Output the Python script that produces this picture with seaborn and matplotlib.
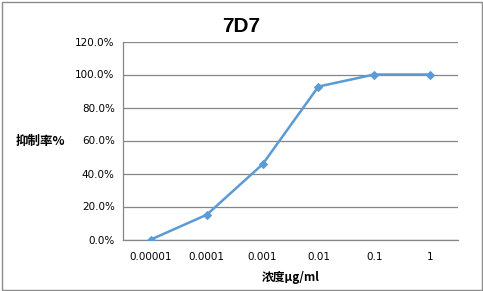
import matplotlib
matplotlib.use("Agg")
import matplotlib.pyplot as plt
import seaborn as sns
import pandas as pd
from matplotlib.ticker import FixedLocator, PercentFormatter
from matplotlib.patches import Rectangle

concentrations = ["0.00001", "0.0001", "0.001", "0.01", "0.1", "1"]
inhibition = [0.0, 15.0, 45.6, 92.7, 100.0, 100.0]
y_ticks = [0, 20, 40, 60, 80, 100, 120]

sns.set_style("white")
plt.rcParams['font.family'] = ['DejaVu Sans', 'Noto Sans CJK SC']
plt.rcParams['text.color'] = 'black'
plt.rcParams['xtick.labelcolor'] = 'black'
plt.rcParams['ytick.labelcolor'] = 'black'

df = pd.DataFrame({"conc": concentrations, "inh": inhibition})

fig = plt.figure(figsize=(4.83, 2.91), dpi=100)
ax = fig.add_axes([123/483, 1-239.5/291, (458-123)/483, (239.5-41.5)/291])

grid_c = "#868686"
line_c = "#5B9BD5"

sns.lineplot(data=df, x="conc", y="inh", ax=ax, sort=False, color=line_c,
             linewidth=1.8, marker="D", markersize=4.5, markeredgecolor=line_c,
             zorder=3)

ax.set_xlim(-0.5, len(concentrations) - 0.5)
ax.set_ylim(0, 120)
ax.yaxis.set_major_locator(FixedLocator(y_ticks))
ax.yaxis.set_major_formatter(PercentFormatter(decimals=1))
ax.grid(axis="y", color=grid_c, linewidth=0.9)
ax.set_axisbelow(True)

ax.set_xticks(range(len(concentrations)))
ax.set_xticklabels(concentrations)
ax.set_xticks([i - 0.5 for i in range(len(concentrations) + 1)], minor=True)
ax.tick_params(axis="x", which="major", length=0, pad=9, labelsize=7.5, labelcolor="black")
ax.tick_params(axis="x", which="minor", length=4, color=grid_c, width=0.9, direction="out")
ax.tick_params(axis="y", which="major", length=3, color=grid_c, width=0.9, direction="out",
               labelsize=7.5, pad=3, labelcolor="black")

for s in ["top", "right"]:
    ax.spines[s].set_visible(False)
for s in ["left", "bottom"]:
    ax.spines[s].set_color(grid_c)
    ax.spines[s].set_linewidth(0.9)

ax.set_xlabel("")
ax.set_ylabel("")

fig.text(241/483, 1-27/291, "7D7", ha="center", va="center", fontsize=15, color="black",
         fontweight="bold", family=["Liberation Sans", "DejaVu Sans"])
fig.text(40/483, 1-141/291, "抑制率%", ha="center", va="center", fontsize=9, color="black",
         fontweight="bold", family=["Noto Sans CJK SC", "DejaVu Sans"])
fig.text(290.5/483, 1-277/291, "浓度μg/ml", ha="center", va="center", fontsize=8.5, color="black",
         fontweight="bold", family=["Noto Sans CJK SC", "DejaVu Sans"])

fig.patches.append(Rectangle((1.5/483, 1.5/291), 480/483, 288/291, transform=fig.transFigure,
                             fill=False, edgecolor="#8c8c8c", linewidth=1))

fig.savefig("out.png", dpi=100)
